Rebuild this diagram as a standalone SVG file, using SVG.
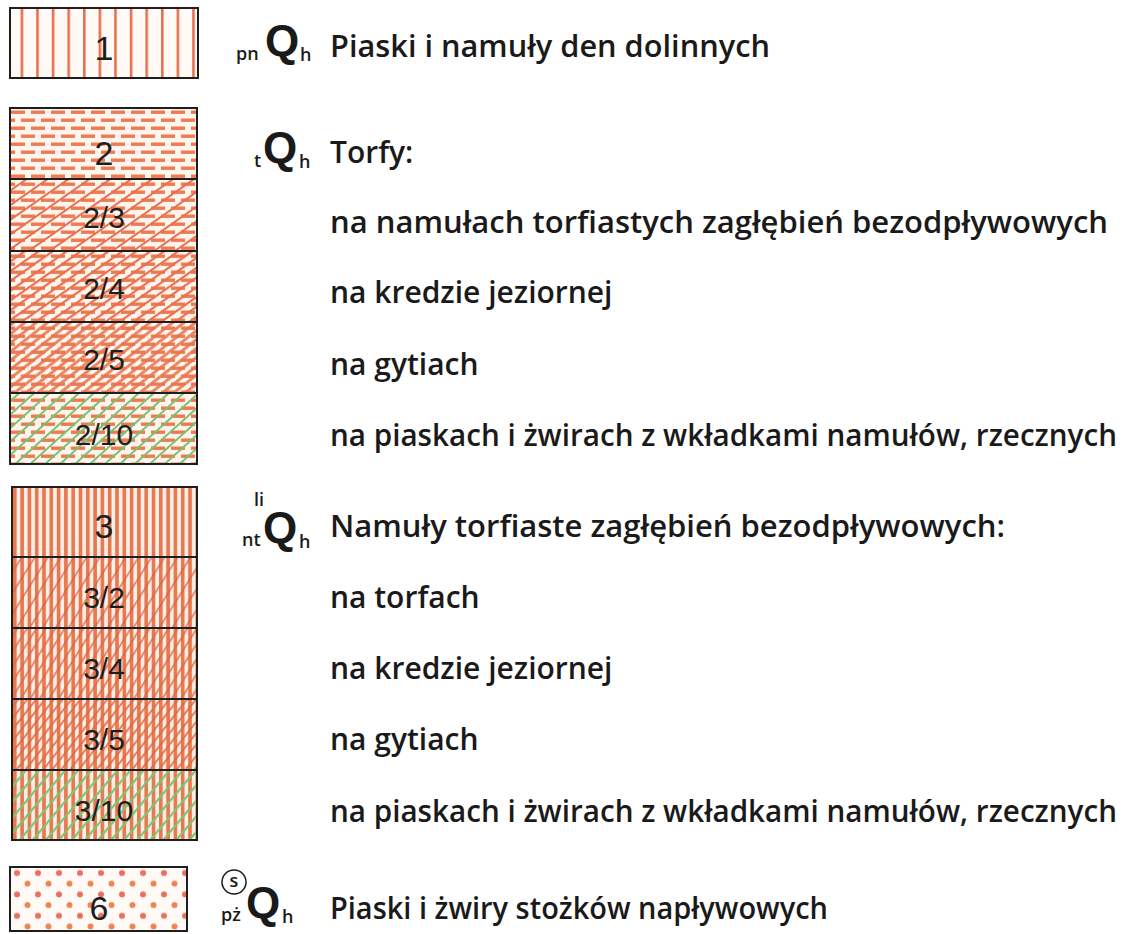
<svg xmlns="http://www.w3.org/2000/svg" width="1133" height="934" viewBox="0 0 1133 934">
<style>
.box{stroke:#1e1e1e;stroke-width:2;fill:none}
.num{font-family:"Liberation Sans",Arial,sans-serif;fill:#1e1e1e;text-anchor:middle;font-size:30px}
.big{font-size:34px}
.desc{font-family:"Open Sans","Liberation Sans",sans-serif;font-weight:600;font-size:30px;fill:#1a1a1a}
.q{font-family:"Liberation Sans",Arial,sans-serif;font-weight:bold;font-size:44px;fill:#1a1a1a}
.sub{font-family:"Open Sans","Liberation Sans",sans-serif;font-weight:600;font-size:18px;fill:#1a1a1a}
</style>
<defs>
<pattern id="v1" patternUnits="userSpaceOnUse" x="20.6" y="0" width="15.6" height="10"><rect x="0" y="0" width="2.6" height="10" fill="#e8704e"/></pattern>
<pattern id="v3" patternUnits="userSpaceOnUse" x="13" y="0" width="7.3" height="10"><rect x="0" y="0" width="7.3" height="10" fill="#fbeee6"/><rect x="0" y="0" width="3.6" height="10" fill="#e8784f"/></pattern>
<pattern id="brick" patternUnits="userSpaceOnUse" x="10" y="108" width="20" height="16"><rect width="20" height="16" fill="#fff5ec"/><rect x="1" y="2.5" width="14" height="3.4" fill="#ec7a55"/><rect x="11" y="10.5" width="14" height="3.4" fill="#ec7a55"/><rect x="-9" y="10.5" width="14" height="3.4" fill="#ec7a55"/></pattern>
<pattern id="d23" patternUnits="userSpaceOnUse" width="12" height="12" patternTransform="rotate(-35)"><rect x="0" y="5" width="12" height="2" fill="#e8704e"/></pattern>
<pattern id="d24" patternUnits="userSpaceOnUse" width="8" height="8" patternTransform="rotate(-35)"><rect x="0" y="3" width="8" height="2.2" fill="#e8704e"/></pattern>
<pattern id="d25" patternUnits="userSpaceOnUse" width="7" height="7" patternTransform="rotate(-38)"><rect x="0" y="2" width="7" height="3" fill="#e8764f" fill-opacity="0.85"/></pattern>
<pattern id="dg2" patternUnits="userSpaceOnUse" width="10" height="10" patternTransform="rotate(-42)"><rect x="0" y="4" width="10" height="2" fill="#78c46e"/></pattern>
<pattern id="d32" patternUnits="userSpaceOnUse" width="11" height="11" patternTransform="rotate(-58)"><rect x="0" y="5" width="11" height="1.6" fill="#d8603c" fill-opacity="0.8"/></pattern>
<pattern id="d34" patternUnits="userSpaceOnUse" width="8" height="8" patternTransform="rotate(-58)"><rect x="0" y="3" width="8" height="1.8" fill="#e0683f" fill-opacity="0.8"/></pattern>
<pattern id="d35" patternUnits="userSpaceOnUse" width="7" height="7" patternTransform="rotate(-52)"><rect x="0" y="3" width="7" height="2" fill="#e0683f" fill-opacity="0.8"/></pattern>
<pattern id="dg3" patternUnits="userSpaceOnUse" width="10" height="10" patternTransform="rotate(-50)"><rect x="0" y="4" width="10" height="2.2" fill="#7cc670"/></pattern>
<pattern id="dots" patternUnits="userSpaceOnUse" x="7" y="863" width="21" height="21.4"><rect width="21" height="21.4" fill="#fffaf5"/><circle cx="10" cy="10" r="3" fill="#ea6f5e"/><circle cx="20.5" cy="20.7" r="3" fill="#ee8450"/><circle cx="-0.5" cy="20.7" r="3" fill="#ee8450"/><circle cx="20.5" cy="-0.7" r="3" fill="#ee8450"/><circle cx="-0.5" cy="-0.7" r="3" fill="#ee8450"/></pattern>
</defs>
<rect width="1133" height="934" fill="#ffffff"/>

<g id="n1">
<rect x="10" y="8" width="188" height="70" fill="#fffaf6"/>
<rect x="10" y="8" width="188" height="70" fill="url(#v1)"/>
<rect class="box" x="10" y="8" width="188" height="70"/>
<text class="num big" x="104" y="60">1</text>
<text class="sub" x="236" y="60">pn</text><text class="q" x="265" y="56">Q</text><text class="sub" x="300" y="61">h</text>
<text class="desc" x="330" y="57" textLength="440" lengthAdjust="spacingAndGlyphs">Piaski i namuły den dolinnych</text>
</g>

<g id="n2">
<rect x="10" y="108" width="187" height="71" fill="url(#brick)"/>
<rect class="box" x="10" y="108" width="187" height="71"/>
<text class="num big" x="104" y="165">2</text>
<text class="sub" x="254" y="167">t</text><text class="q" x="263" y="163">Q</text><text class="sub" x="299" y="168">h</text>
<text class="desc" x="330" y="163">Torfy:</text>
</g>

<g id="n2-3">
<rect x="10" y="179" width="187" height="72" fill="url(#brick)"/>
<rect x="10" y="179" width="187" height="72" fill="url(#d23)"/>
<rect class="box" x="10" y="179" width="187" height="72"/>
<text class="num" x="104" y="228">2/3</text>
<text class="desc" x="330" y="233" textLength="778" lengthAdjust="spacingAndGlyphs">na namułach torfiastych zagłębień bezodpływowych</text>
</g>

<g id="n2-4">
<rect x="10" y="251" width="187" height="71" fill="url(#brick)"/>
<rect x="10" y="251" width="187" height="71" fill="url(#d24)"/>
<rect class="box" x="10" y="251" width="187" height="71"/>
<text class="num" x="104" y="299">2/4</text>
<text class="desc" x="330" y="303">na kredzie jeziornej</text>
</g>

<g id="n2-5">
<rect x="10" y="322" width="187" height="71" fill="url(#brick)"/>
<rect x="10" y="322" width="187" height="71" fill="url(#d25)"/>
<rect class="box" x="10" y="322" width="187" height="71"/>
<text class="num" x="104" y="370">2/5</text>
<text class="desc" x="330" y="375">na gytiach</text>
</g>

<g id="n2-10">
<rect x="10" y="393" width="187" height="71" fill="url(#brick)"/>
<rect x="10" y="393" width="187" height="71" fill="url(#dg2)"/>
<rect class="box" x="10" y="393" width="187" height="71"/>
<text class="num" x="104" y="445">2/10</text>
<text class="desc" x="330" y="446" textLength="787" lengthAdjust="spacingAndGlyphs">na piaskach i żwirach z wkładkami namułów, rzecznych</text>
</g>

<g id="n3">
<rect x="12" y="487" width="185" height="70" fill="url(#v3)"/>
<rect class="box" x="12" y="487" width="185" height="70"/>
<text class="num big" x="104" y="538">3</text>
<text class="sub" x="254" y="506">li</text><text class="sub" x="242" y="546">nt</text><text class="q" x="263" y="543">Q</text><text class="sub" x="299" y="548">h</text>
<text class="desc" x="330" y="537" textLength="675" lengthAdjust="spacingAndGlyphs">Namuły torfiaste zagłębień bezodpływowych:</text>
</g>

<g id="n3-2">
<rect x="12" y="557" width="185" height="71" fill="url(#v3)"/>
<rect x="12" y="557" width="185" height="71" fill="url(#d32)"/>
<rect class="box" x="12" y="557" width="185" height="71"/>
<text class="num" x="104" y="608">3/2</text>
<text class="desc" x="330" y="608">na torfach</text>
</g>

<g id="n3-4">
<rect x="12" y="628" width="185" height="71" fill="url(#v3)"/>
<rect x="12" y="628" width="185" height="71" fill="url(#d34)"/>
<rect class="box" x="12" y="628" width="185" height="71"/>
<text class="num" x="104" y="679">3/4</text>
<text class="desc" x="330" y="679">na kredzie jeziornej</text>
</g>

<g id="n3-5">
<rect x="12" y="699" width="185" height="71" fill="url(#v3)"/>
<rect x="12" y="699" width="185" height="71" fill="url(#d35)"/>
<rect class="box" x="12" y="699" width="185" height="71"/>
<text class="num" x="104" y="750">3/5</text>
<text class="desc" x="330" y="750">na gytiach</text>
</g>

<g id="n3-10">
<rect x="12" y="770" width="185" height="70" fill="url(#v3)"/>
<rect x="12" y="770" width="185" height="70" fill="url(#dg3)"/>
<rect class="box" x="12" y="770" width="185" height="70"/>
<text class="num" x="104" y="821">3/10</text>
<text class="desc" x="330" y="822" textLength="787" lengthAdjust="spacingAndGlyphs">na piaskach i żwirach z wkładkami namułów, rzecznych</text>
</g>

<g id="n6">
<rect x="10" y="867" width="177" height="64" fill="url(#dots)"/>
<rect class="box" x="10" y="867" width="177" height="64"/>
<text class="num big" x="99" y="920">6</text>
<circle cx="234" cy="882" r="12" fill="none" stroke="#1a1a1a" stroke-width="1.5"/>
<text class="sub" x="234" y="887" font-size="15" text-anchor="middle">s</text>
<text class="sub" x="221" y="921">pż</text><text class="q" x="246" y="918">Q</text><text class="sub" x="282" y="923">h</text>
<text class="desc" x="330" y="919" textLength="498" lengthAdjust="spacingAndGlyphs">Piaski i żwiry stożków napływowych</text>
</g>

<g id="connectors"></g>
</svg>
